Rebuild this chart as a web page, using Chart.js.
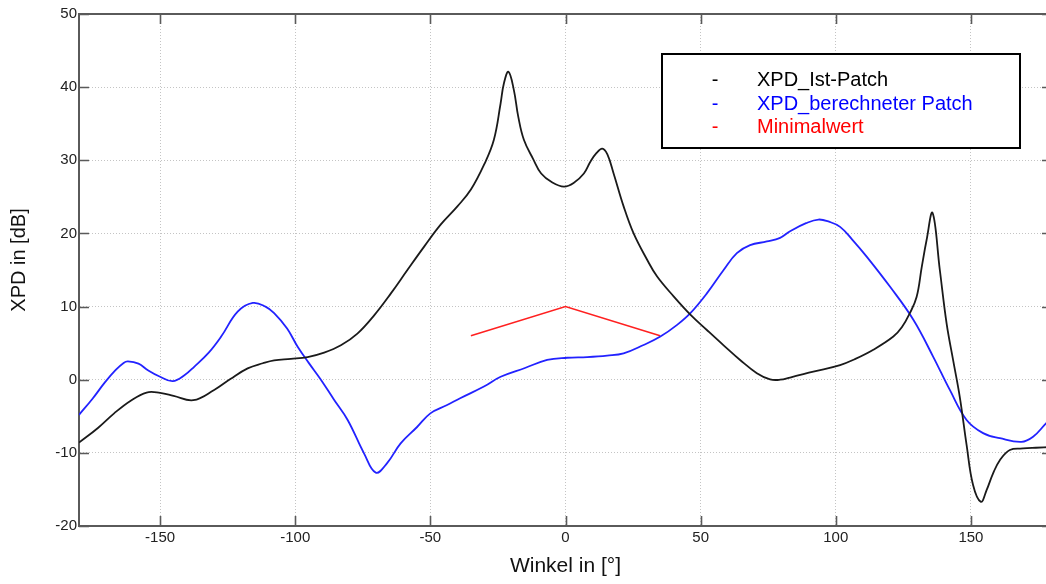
<!DOCTYPE html>
<html>
<head>
<meta charset="utf-8">
<style>
  html, body { margin: 0; padding: 0; background: #fff; overflow: hidden; width: 1046px; height: 584px; }
  #wrap { width: 1060px; height: 584px; }
</style>
<script src="https://cdn.jsdelivr.net/npm/chart.js@4.4.1/dist/chart.umd.min.js"></script>
</head>
<body>
<div id="wrap"><canvas id="xpd" width="1060" height="584"></canvas></div>
<script>
// XPD of the measured patch (angle in degrees, XPD in dB)
const istAngles = [-180,-173,-167,-161,-155,-150,-145,-137.7,-130,-124,-117.6,-112,-107.8,-101.6,-95.4,-89.3,-83.1,-77,-70.8,-64.6,-58.5,-52.3,-46.2,-40,-35,-30,-26.5,-24,-22.8,-21.1,-19.1,-17.5,-15.4,-12,-9,-5,-0.6,3,6.8,9.2,11.5,13.6,15.5,17.8,21.5,25.2,30.2,33.9,40,46.2,52.3,58.5,64.6,70.8,75.7,79.4,83.1,91.7,101.6,107,113.9,121.3,124.5,127.4,129.9,131.8,133.6,135.8,138.5,141,143.4,145.9,148.4,150.8,153.7,155.8,158.2,160.7,164.4,169.3,174,180];
const istXpd    = [-8.6,-6.6,-4.6,-2.9,-1.75,-1.8,-2.2,-2.8,-1.4,0.1,1.55,2.25,2.65,2.85,3.1,3.7,4.7,6.3,8.8,11.8,15.0,18.2,21.2,23.7,26.0,29.5,32.8,37.8,40.5,42.1,39.6,36.0,32.8,30.2,28.2,27.0,26.4,26.9,28.2,29.8,31.0,31.6,30.8,28.2,23.7,20.0,16.4,14.1,11.4,8.9,6.8,4.7,2.7,0.9,0.05,0.0,0.3,1.1,2.0,2.8,4.1,5.9,7.2,9.1,11.3,15.4,19.1,22.8,15.0,7.7,2.7,-2.4,-8.9,-14.4,-16.7,-15.1,-12.8,-11.0,-9.6,-9.4,-9.3,-9.2];

// XPD of the calculated patch
const calcAngles = [-180,-175,-170.5,-166.5,-163.5,-161.9,-158,-154.5,-150,-145.3,-141,-137.3,-132,-127.4,-121.3,-115.7,-111,-107.8,-103,-99.1,-95,-90.5,-85.7,-80.6,-74.5,-70.2,-66,-61,-55,-50,-44,-38.8,-30,-24,-15,-6.8,0.6,8,15.4,21.5,28.9,35.1,41.3,46.2,52.3,58.5,63.4,68.3,74.5,79.4,83.1,89,93.6,97.5,101.6,106,111.5,120.1,128.7,136.1,142.2,148.4,154.5,160.7,168.7,173,177.7,180];
const calcXpd   = [-4.8,-2.6,-0.4,1.3,2.3,2.5,2.2,1.3,0.4,-0.2,0.6,1.8,3.7,5.9,9.3,10.5,10.0,9.1,7.0,4.5,2.3,0.0,-2.7,-5.5,-10.1,-12.7,-11.4,-8.7,-6.5,-4.6,-3.5,-2.5,-0.9,0.4,1.6,2.7,3.0,3.1,3.3,3.6,4.75,5.9,7.5,9.1,11.8,15.0,17.3,18.4,18.9,19.4,20.3,21.4,21.9,21.6,20.9,19.2,16.8,12.7,8.2,3.1,-1.4,-5.5,-7.3,-8.0,-8.5,-7.8,-6.0,-5.2];

// Required minimum
const minAngles = [-35, 0, 35];
const minXpd    = [6, 10, 6];

const xTicks = [-150, -100, -50, 0, 50, 100, 150];
const yTicks = [-20, -10, 0, 10, 20, 30, 40, 50];

const legendNames  = ['XPD_Ist-Patch', 'XPD_berechneter Patch', 'Minimalwert'];
const legendColors = ['#000000', '#0000ff', '#ff0000'];

const AXIS = '#5a5a5a';
const FONT = '"Liberation Sans", Arial, sans-serif';

const pts = (xs, ys) => xs.map((x, i) => ({ x, y: ys[i] }));

// Frame, inward tick marks, axis titles and legend box
const decorations = {
  id: 'decorations',
  afterDraw(chart) {
    const { ctx, chartArea: a, scales: { x, y } } = chart;
    ctx.save();
    ctx.strokeStyle = AXIS;
    ctx.lineWidth = 2;
    ctx.beginPath();
    ctx.moveTo(a.left, a.top); ctx.lineTo(a.right, a.top);
    ctx.moveTo(a.right, a.top); ctx.lineTo(a.right, a.bottom);
    ctx.stroke();

    ctx.lineWidth = 1.6;
    ctx.beginPath();
    xTicks.forEach(v => {
      const px = Math.round(x.getPixelForValue(v)) + 0.5;
      ctx.moveTo(px, a.bottom); ctx.lineTo(px, a.bottom - 10);
      ctx.moveTo(px, a.top); ctx.lineTo(px, a.top + 10);
    });
    yTicks.forEach(v => {
      const py = Math.round(y.getPixelForValue(v)) + 0.5;
      ctx.moveTo(a.left, py); ctx.lineTo(a.left + 10, py);
      ctx.moveTo(a.right, py); ctx.lineTo(a.right - 10, py);
    });
    ctx.stroke();

    // axis titles
    ctx.fillStyle = '#111';
    ctx.textAlign = 'center';
    ctx.textBaseline = 'middle';
    ctx.font = '21px ' + FONT;
    ctx.fillText('Winkel in [°]', (a.left + a.right) / 2, 566);
    ctx.save();
    ctx.translate(19.5, 260);
    ctx.rotate(-Math.PI / 2);
    ctx.font = '20px ' + FONT;
    ctx.fillText('XPD in [dB]', 0, 0);
    ctx.restore();

    // legend
    const bx = 662, by = 54, bw = 358, bh = 94;
    ctx.fillStyle = '#fff';
    ctx.fillRect(bx, by, bw, bh);
    ctx.strokeStyle = '#000';
    ctx.lineWidth = 2;
    ctx.strokeRect(bx, by, bw, bh);
    ctx.font = '20px ' + FONT;
    ctx.textBaseline = 'alphabetic';
    const base = [86, 109.5, 133];
    legendNames.forEach((name, i) => {
      ctx.fillStyle = legendColors[i];
      ctx.textAlign = 'center';
      ctx.fillText('-', 715, base[i]);
      ctx.textAlign = 'left';
      ctx.fillText(name, 757, base[i]);
    });
    ctx.restore();
  }
};

new Chart(document.getElementById('xpd'), {
  type: 'line',
  data: {
    datasets: [
      { label: legendNames[0], data: pts(istAngles, istXpd), borderColor: '#1a1a1a', borderWidth: 1.8, tension: 0.4, pointRadius: 0 },
      { label: legendNames[1], data: pts(calcAngles, calcXpd), borderColor: '#2222ff', borderWidth: 1.8, tension: 0.4, pointRadius: 0 },
      { label: legendNames[2], data: pts(minAngles, minXpd), borderColor: '#ff2020', borderWidth: 1.6, tension: 0, pointRadius: 0 }
    ]
  },
  options: {
    responsive: false,
    animation: false,
    events: [],
    layout: { padding: { left: 0, right: 8, top: 14, bottom: 0 } },
    plugins: { legend: { display: false }, tooltip: { enabled: false } },
    scales: {
      x: {
        type: 'linear', min: -180, max: 180,
        afterBuildTicks: s => { s.ticks = xTicks.map(v => ({ value: v })); },
        afterFit: s => { s.height = 58; },
        grid: { color: '#c4c4c4', lineWidth: 1, drawTicks: false },
        border: { display: true, color: AXIS, width: 2, dash: [1, 2] },
        ticks: { padding: 3, color: '#222', font: { family: FONT, size: 15 } }
      },
      y: {
        type: 'linear', min: -20, max: 50,
        afterBuildTicks: s => { s.ticks = yTicks.map(v => ({ value: v })); },
        afterFit: s => { s.width = 79; },
        grid: { color: '#c4c4c4', lineWidth: 1, drawTicks: false },
        border: { display: true, color: AXIS, width: 2, dash: [1, 2] },
        ticks: { padding: 2, color: '#222', font: { family: FONT, size: 15 } }
      }
    }
  },
  plugins: [decorations]
});
</script>
</body>
</html>
